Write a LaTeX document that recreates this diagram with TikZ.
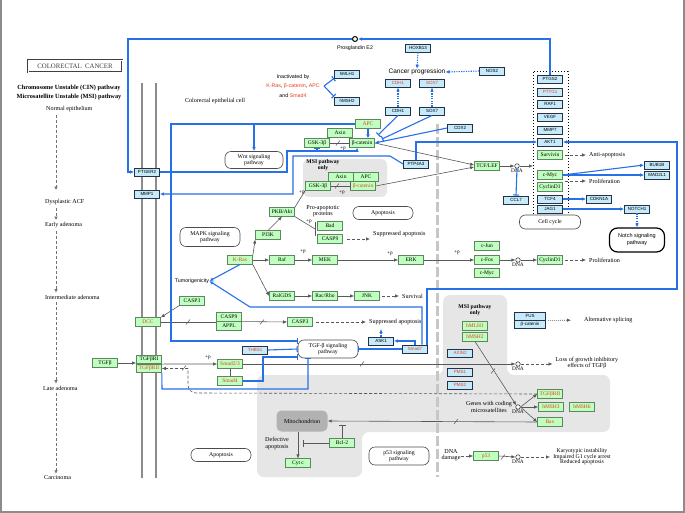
\documentclass[tikz,border=0pt]{standalone}
\usepackage{fontspec}
\setmainfont{Liberation Serif}
\setsansfont{Liberation Sans}
\usetikzlibrary{arrows.meta}

\definecolor{kgreen}{RGB}{191,255,191}
\definecolor{kgreenln}{RGB}{95,135,95}
\definecolor{kblue}{RGB}{198,234,250}
\definecolor{knavy}{RGB}{35,50,70}
\definecolor{kred}{RGB}{232,64,30}
\definecolor{lnblue}{RGB}{38,112,232}
\definecolor{regiongray}{RGB}{230,230,230}
\definecolor{mitogray}{RGB}{178,178,178}

\tikzset{
	gbox/.style={draw=kgreenln, fill=kgreen, line width=0.6pt, minimum width=25pt, minimum height=8.5pt, inner sep=0pt, font=\fontsize{5.5}{5.5}\selectfont},
	bbox/.style={draw=knavy, fill=kblue, line width=0.9pt, minimum width=25pt, minimum height=8pt, inner sep=0pt, font=\sffamily\fontsize{4.5}{5}\selectfont},
	redtxt/.style={text=kred},
	pway/.style={draw=black!70, fill=white, line width=0.6pt, rounded corners=6pt, minimum width=60pt, minimum height=14pt, inner sep=0pt, align=center, font=\fontsize{5.8}{6.4}\selectfont},
	lbl/.style={inner sep=0pt, align=center, font=\fontsize{6.1}{6.2}\selectfont},
	slbl/.style={inner sep=0pt, align=center, font=\sffamily\fontsize{5.3}{9.5}\selectfont},
	boldlbl/.style={inner sep=0pt, align=center, font=\bfseries\fontsize{6.3}{9}\selectfont},
	plbl/.style={inner sep=0pt, font=\fontsize{5.2}{5}\selectfont},
	dna/.style={circle, draw=black!75, fill=white, line width=0.6pt, minimum size=4.5pt, inner sep=0pt, label={[inner sep=0.5pt, font=\fontsize{5.4}{5}\selectfont]below:DNA}},
	membrane/.style={draw=black!45, line width=2.4pt},
	nucl/.style={draw=black!22, line width=3pt, dash pattern=on 10pt off 3pt},
	bln/.style={draw=lnblue, line width=1.1pt},
	blarr/.style={bln, -{Latex[length=4pt,width=3.6pt]}},
	blbar/.style={bln, -{Bar[width=6pt]}},
	bldot/.style={bln, dash pattern=on 1.2pt off 1.2pt, -{Latex[length=4pt,width=3.6pt]}},
	blk/.style={draw=black!65, line width=0.6pt},
	blkarr/.style={blk, -{Latex[length=4pt,width=3.4pt]}},
	blkbar/.style={blk, -{Bar[width=7pt]}},
	dsharr/.style={blk, dash pattern=on 3pt off 2pt, -{Latex[length=4pt,width=3.4pt]}},
	stagearr/.style={draw=black!55, line width=0.6pt, dash pattern=on 3pt off 2pt, -{Latex[length=3.5pt,width=3.5pt]}, shorten <=3pt, shorten >=2pt},
	cutln/.style={draw=black!65, line width=0.5pt},
}
\def\cutmark(#1,#2){\draw[cutln] (#1-2,#2+2.5) -- (#1+2,#2-2.5);}
\def\phos#1(#2,#3){\node[plbl] (#1) at (#2,#3) {+p};}

\begin{document}
\begin{tikzpicture}[x=1pt,y=-1pt]
			%%%%% START %%%%%
			\useasboundingbox (0,0) rectangle (685,513);
			\fill[white] (0,0) rectangle (685,513);
			\draw[black!45, line width=1.2pt] (1,0) -- (1,512) -- (684,512) -- (684,0);
			
			\fill[regiongray, rounded corners=7pt] (257,375) -- (443,375) -- (443,295) -- (507,295) -- (507,375) -- (610,375) -- (610,432) -- (362,432) -- (362,477) -- (257,477) -- cycle;
			\fill[regiongray, rounded corners=6pt] (303,159) rectangle (387,197);
			
			\draw[membrane] (142,83) -- (142,478);
			\draw[membrane] (156,83) -- (156,478);
			\draw[nucl] (437,124) -- (437,477);
			\draw[dotted, line width=1pt] (533,72) rectangle (568,215);
			
			% left column
			\node[draw=black!75, double=white, double distance=0.6pt, line width=0.6pt, minimum width=94pt, minimum height=12pt, inner sep=0pt, text=black!75, font=\fontsize{6.8}{6.8}\selectfont] (title) at (75,66) {COLORECTAL\ \ CANCER};
			\node[boldlbl] (cin) at (69,88) {Chromosome Unstable (CIN) pathway};
			\node[boldlbl] (msip) at (69,97) {Microsatellite Unstable (MSI) pathway};
			\node[lbl, anchor=west] (st0) at (46,109) {Normal epithelium};
			\node[lbl, anchor=west] (st1) at (45,202) {Dysplastic ACF};
			\node[lbl, anchor=west] (st2) at (45,225) {Early adenoma};
			\node[lbl, anchor=west] (st3) at (45,297) {Intermediate adenoma};
			\node[lbl, anchor=west] (st4) at (43,388) {Late adenoma};
			\node[lbl, anchor=west] (st5) at (44,478) {Carcinoma};
			\coordinate (sx) at (56,0);
			\draw[stagearr, shorten >=9pt] (st0.south -| sx) -- (st1.north -| sx);
			\draw[stagearr] (st1.south -| sx) -- (st2.north -| sx);
			\draw[stagearr] (st2.south -| sx) -- (st3.north -| sx);
			\draw[stagearr] (st3.south -| sx) -- (st4.north -| sx);
			\draw[stagearr] (st4.south -| sx) -- (st5.north -| sx);
			
			\node[bbox] (ptger2) at (147,172) {PTGER2};
			\node[bbox] (mmp1) at (147,194) {MMP1};
			\node[gbox, redtxt] (dcc) at (148,322) {DCC};
			\node[gbox] (tgfb) at (105,363) {TGFβ};
			\node[gbox] (tgfbr1) at (149,359.5) {TGFβRI};
			\node[gbox, redtxt] (tgfbr2) at (149,368.5) {TGFβRII};
			
			% top
			\node[circle, draw, line width=1pt, fill=white, minimum size=5pt, inner sep=0pt] (pge) at (355,39) {};
			\node[slbl] (pgelbl) at (355,48) {Prosglandin E2};
			\node[bbox] (hoxb13) at (418,48) {HOXB13};
			\node[inner sep=0pt, font=\sffamily\fontsize{6.5}{7}\selectfont] (cprog) at (417,72) {Cancer progression};
			\node[bbox] (nos2) at (492,71) {NOS2};
			\node[bbox, redtxt] (cdh1r) at (398,83) {CDH1};
			\node[bbox, redtxt] (sox7r) at (432,83) {SOX7};
			\node[bbox] (cdh1) at (398,111) {CDH1};
			\node[bbox] (sox7) at (432,111) {SOX7};
			\node[bbox] (hmlh1a) at (347,74) {hMLH1};
			\node[bbox] (hmsh2a) at (347,101) {hMSH2};
			\node[slbl] (inact) at (293,86) {Inactivated by\\\textcolor{kred}{K-Ras}, \textcolor{kred}{β-catenin}, \textcolor{kred}{APC}\\and \textcolor{kred}{Smad4}};
			\node[lbl] (cell) at (215,101) {Colorectal epithelial cell};
			
			% wnt part
			\node[gbox, redtxt] (apc) at (368,124) {APC};
			\node[gbox] (axin) at (340,133) {Axin};
			\node[gbox] (gsk) at (317,143) {GSK-3β};
			\node[gbox] (bcat) at (362,143) {β-catenin};
			\node[pway, minimum width=58pt, minimum height=17pt] (wnt) at (254,160) {Wnt signaling\\pathway};
			\node[bbox] (ptp4a3) at (416,164) {PTP4A3};
			\node[bbox] (cdx2) at (460,128) {CDX2};
			\node[boldlbl, font=\bfseries\fontsize{5.7}{5.7}\selectfont] (msi1) at (323,165) {MSI pathway\\only};
			\node[gbox] (msiaxin) at (341,177) {Axin};
			\node[gbox] (msiapc) at (366,177) {APC};
			\node[gbox] (msigsk) at (318,186) {GSK-3β};
			\node[gbox, redtxt] (msibcat) at (363,186) {β-catenin};
			\node[gbox] (tcflef) at (487,166) {TCF/LEF};
			\node[dna] (dna1) at (517,166) {};
			\node[bbox] (ccl7) at (516,200) {CCL7};
			\coordinate (boxin) at (533,166);
			
			% target genes
			\node[bbox] (ptgs2) at (550,79) {PTGS2};
			\node[bbox, redtxt] (pttg1) at (550,92) {PTTG1};
			\node[bbox] (raf1) at (550,104) {RAF1};
			\node[bbox] (vegf) at (550,117) {VEGF};
			\node[bbox] (mmp7) at (550,130) {MMP7};
			\node[bbox] (akt1) at (550,142) {AKT1};
			\node[gbox] (survivin) at (550,155) {Survivin};
			\node[gbox] (cmyc) at (550,175) {c-Myc};
			\node[gbox] (cycd1) at (550,187) {CyclinD1};
			\node[bbox] (tcf4) at (550,199) {TCF4};
			\node[bbox] (jag1) at (550,209) {JAG1};
			\node[pway, minimum width=61pt, minimum height=14pt] (ccyc) at (550,222) {Cell cycle};
			\node[lbl, anchor=west] (antiap) at (589,155) {Anti-apoptosis};
			\node[bbox] (bub1b) at (657,165) {BUB1B};
			\node[bbox] (mad2l1) at (657,175) {MAD2L1};
			\node[lbl, anchor=west] (prolif1) at (589,181) {Proliferation};
			\coordinate (myccd) at (565,181);
			\node[bbox] (cdkn1a) at (599,199) {CDKN1A};
			\node[bbox] (notch1) at (637,209) {NOTCH1};
			\node[draw, line width=1.2pt, fill=white, rounded corners=8pt, minimum width=55pt, minimum height=24pt, align=center, inner sep=0pt, font=\sffamily\fontsize{5.5}{7}\selectfont] (notchpw) at (637,240) {Notch signaling\\pathway};
			
			% mapk part
			\node[gbox] (pkb) at (282,212) {PKB/Akt};
			\node[lbl] (proap) at (323,211.5) {Pro-apoptotic\\proteins};
			\node[pway, minimum height=13pt] (apop1) at (383,213) {Apoptosis};
			\node[gbox] (bad) at (330,226) {Bad};
			\node[gbox] (casp9a) at (330,239) {CASP9};
			\node[lbl, anchor=west] (supap1) at (373,234) {Suppressed apoptosis};
			\node[gbox] (pi3k) at (268,235) {PI3K};
			\node[pway, minimum height=19pt] (mapk) at (210,237) {MAPK signaling\\pathway};
			\node[gbox, redtxt] (kras) at (240,260) {K-Ras};
			\node[gbox] (raf) at (282,260) {Raf};
			\node[gbox] (mek) at (325,260) {MEK};
			\node[gbox] (erk) at (411,260) {ERK};
			\node[gbox] (cjun) at (487,246) {c-Jun};
			\node[gbox] (cfos) at (487,260) {c-Fos};
			\node[gbox] (cmyc2) at (487,273) {c-Myc};
			\node[dna] (dna2) at (518,260) {};
			\node[gbox] (cycd1b) at (550,260) {CyclinD1};
			\node[lbl, anchor=west] (prolif2) at (589,260) {Proliferation};
			\node[gbox] (ralgds) at (282,296) {RalGDS};
			\node[gbox] (racrho) at (325,296) {Rac/Rho};
			\node[gbox] (jnk) at (367,296) {JNK};
			\node[lbl, anchor=west] (surv) at (402,296) {Survival};
			\node[slbl] (tumor) at (192,281) {Tumorigenicity};
			\node[gbox] (casp3a) at (192,301) {CASP3};
			\node[gbox] (casp9b) at (229,317) {CASP9};
			\node[gbox] (appl) at (229,326) {APPL};
			\node[gbox] (casp3b) at (300,322) {CASP3};
			\node[lbl, anchor=west] (supap2) at (369,322) {Suppressed apoptosis};
			
			% tgf part
			\node[bbox] (ask1) at (381,341) {ASK1};
			\coordinate (ask1up) at (381,329);
			\node[bbox, redtxt] (smad7) at (415,349) {Smad7};
			\node[bbox, redtxt] (thbs1) at (255,350) {THBS1};
			\node[pway, minimum height=18pt] (tgfpw) at (328,349) {TGF-β signaling\\pathway};
			\node[gbox, redtxt] (smad23) at (230,364) {Smad2/3};
			\node[gbox, redtxt] (smad4) at (230,381) {Smad4};
			
			% msi part
			\node[boldlbl, font=\bfseries\fontsize{5.7}{5.7}\selectfont] (msi2) at (475,310) {MSI pathway\\only};
			\node[gbox, redtxt] (hmlh1) at (475,326) {hMLH1};
			\node[gbox, redtxt] (hmsh2) at (475,337) {hMSH2};
			\node[bbox, redtxt] (axin2) at (460,353) {AXIN2};
			\node[bbox, redtxt] (pms1) at (460,372) {PMS1};
			\node[bbox, redtxt] (pms2) at (460,385) {PMS2};
			\node[bbox, minimum width=31pt] (fus) at (530,316) {FUS};
			\node[bbox, minimum width=31pt] (fusbcat) at (530,324) {β-catenin};
			\node[lbl, anchor=west] (altspl) at (584,320) {Alternative splicing};
			\node[dna] (dna3) at (518,364) {};
			\node[lbl] (loss) at (587,363) {Loss of growth inhibitory\\effects of TGFβ};
			\node[lbl] (genes) at (489,407) {Genes with coding\\microsatellites};
			\node[dna] (dna4) at (518,407) {};
			\node[gbox, redtxt] (tgfbr2b) at (550,394) {TGFβRII};
			\node[gbox, redtxt] (hmsh3) at (551,407) {hMSH3};
			\node[gbox, redtxt] (hmsh6) at (582,407) {hMSH6};
			\node[gbox, redtxt] (bax) at (550,422) {Bax};
			
			% bottom
			\node[fill=mitogray, rounded corners=5pt, minimum width=51pt, minimum height=21pt, inner sep=0pt, font=\fontsize{6}{6}\selectfont] (mito) at (302,421) {Mitochondrion};
			\node[gbox] (cytc) at (298,463) {Cyt c};
			\node[gbox] (bcl2) at (342,443) {Bcl-2};
			\coordinate (bclhit) at (342,425);
			\coordinate (cythit) at (303,443);
			\node[lbl] (defap) at (277,443.5) {Defective\\apoptosis};
			\node[pway, minimum height=13pt] (apop2) at (221,455) {Apoptosis};
			\node[pway, minimum height=18pt] (p53pw) at (399,456) {p53 signaling\\pathway};
			\node[lbl] (dnadmg) at (451,455) {DNA\\damage};
			\node[gbox, redtxt] (p53) at (486,456) {p53};
			\node[dna] (dna5) at (518,457) {};
			\node[lbl, font=\fontsize{5.8}{5.6}\selectfont] (karyo) at (582,457) {Karyotypic instability\\Impaired G1 cycle arrest\\Reduced apoptosis};
			
			% black relations
			\draw[blkarr] (tgfb.east) -- (tgfb.east -| tgfbr1.west);
			\draw[blkarr] (tgfbr1.south east) -- (smad23.west);
			\phos{p1}(208,358)
			\draw[dsharr] (tgfbr2b.west) -- (196,393) to[out=180, in=-90] (188,385) -- (188,368.5) -- (tgfbr2.east);
			\cutmark(184,368)
			\draw[blk] (smad23.south) -- (smad4.north);
			\draw[blkarr] (smad23.east) -- (dna3.west);
			\cutmark(362,364)
			\draw[dsharr, shorten >=3pt] (dna3.east) -- (dna3.east -| loss.west);
			\draw[blkarr] (hmsh2.south) -- (dna4.north west);
			\cutmark(493,371)
			\draw[blkarr] (dna4.east) -- (tgfbr2b.west);
			\draw[blkarr] (dna4.east) -- (hmsh3.west);
			\draw[blkarr] (dna4.east) -- (bax.west);
			\draw[blkarr] (bax.west) -- (mito.east);
			\cutmark(456,421.5)
			\draw[blkbar] (bcl2.north) -- (bclhit);
			\draw[blkarr] (mito.south -| cytc.north) -- (cytc.north);
			\draw[blkbar] (bcl2.west) -- (cythit);
			\draw[dsharr] (dnadmg.east |- p53.west) -- (p53.west);
			\draw[blkarr] (p53.east) -- (dna5.west);
			\cutmark(503,457)
			\draw[dsharr, shorten >=3pt] (dna5.east) -- (dna5.east -| karyo.west);
			
			\draw[blkbar] (gsk.east) -- (bcat.west);
			\cutmark(338,143)
			\phos{p2}(343,149)
			\draw[blkbar] (msigsk.east) -- (msibcat.west);
			\cutmark(337,186)
			\phos{p3}(342,193)
			\draw[blk] (pkb.north east) -- (msigsk.south west);
			\phos{p4}(302,193)
			\draw[blkarr] (bcat.east) -- ([yshift=1pt]tcflef.west);
			\draw[blkarr] (msibcat.east) -- ([yshift=-1pt]tcflef.west);
			\draw[blkarr] (tcflef.east) -- (dna1.west);
			\draw[blkarr] (dna1.east) -- (boxin);
			\draw[dsharr, shorten <=2pt, shorten >=3pt] (survivin.east) -- (antiap.west);
			\draw[dsharr, shorten >=3pt] (myccd) -- (prolif1.west);
			
			\draw[blkarr] (kras.north east) -- (pi3k.south west);
			\draw[blkarr] (pi3k.north) -- (pkb.south);
			\coordinate (pkbhit) at (315,229);
			\draw[blk] (pkb.south east) -- (pkbhit);
			\draw[blk] (315,222) -- (315,236);
			\phos{p5}(309,222)
			\draw[dsharr, shorten <=4pt, shorten >=3pt] (casp9a.east) -- (casp9a.east -| supap1.west);
			\draw[blkarr] (kras.east) -- (raf.west);
			\draw[blkarr] (raf.east) -- (mek.west);
			\phos{p6}(303,252)
			\draw[blkarr] (mek.east) -- (erk.west);
			\phos{p7}(390,254)
			\draw[blkarr] (erk.east) -- (cfos.west);
			\phos{p8}(457,253)
			\draw[blkarr] (cfos.east) -- (dna2.west);
			\draw[blkarr] (dna2.east) -- (cycd1b.west);
			\draw[dsharr, shorten <=2pt, shorten >=3pt] (cycd1b.east) -- (prolif2.west);
			\draw[blkarr] (kras.south east) -- (ralgds.west);
			\draw[blkarr] (ralgds.east) -- (racrho.west);
			\draw[blkarr] (racrho.east) -- (jnk.west);
			\draw[dsharr, shorten <=2pt, shorten >=3pt] (jnk.east) -- (surv.west);
			\draw[blkarr] (casp3a.south west) -- (dcc.north east);
			\draw[blk] (dcc.east) -- (dcc.east -| casp9b.west);
			\cutmark(188,322)
			\draw[blkarr] (casp9b.south east) -- (casp3b.west);
			\cutmark(262,322)
			\draw[dsharr, shorten <=3pt, shorten >=3pt] (casp3b.east) -- (supap2.west);
			\draw[blk, dash pattern=on 1pt off 1pt, -{Latex[length=4pt,width=3.4pt]}, shorten <=2pt, shorten >=13pt] (fus.south east) -- (altspl.west);
			
			% blue relations
			\draw[blarr] (ptgs2.north) |- (pge.east);
			\coordinate (pgl) at (128,39);
			\draw[blarr] (pge.west) -- (pgl) |- (ptger2.west);
			\coordinate (pga) at (287,151);
			\draw[blarr] (ptger2.east) -| (pga) -| ([xshift=-5pt]bcat.south);
			\draw[blbar] (gsk.south |- pga) -- (gsk.south);
			\coordinate (pta) at (390,156);
			\coordinate (ptb) at (293,156);
			\draw[blarr] (ptp4a3.west) -- (pta) -- (ptb) |- (mmp1.east);
			\draw[blarr] (ptp4a3.north) |- (akt1.west);
			\coordinate (apcl) at (171,124);
			\coordinate (apcb) at (171,341);
			\draw[blbar] (apc.west) -- (apcl) -- (apcb) -- ([yshift=8pt]tgfpw.west);
			\draw[blarr] (wnt.north |- apcl) -- (wnt.north);
			\draw[blarr] (apc.south) -- (apc.south |- bcat.north);
			\coordinate (cdhhit) at (378,135);
			\coordinate (soxhit) at (382,139);
			\draw[blbar] (cdh1.south) -- (cdhhit);
			\draw[blbar] (sox7.south) -- (soxhit);
			\draw[blarr] (cdx2.west) -- (bcat.east);
			\draw[bldot] (cdh1.north) -- (cdh1r.south);
			\draw[bldot] (sox7.north) -- (sox7r.south);
			\draw[bldot] (hoxb13.south) -- (cprog.north);
			\draw[bldot] (nos2.west) -- (cprog.east);
			\coordinate (inactv) at (324,86);
			\draw[blbar] (inactv) -- (hmlh1a.south west);
			\draw[blbar] (inactv) -- (hmsh2a.north west);
			\draw[blbar] (dna1.south) -- (ccl7.north);
			\draw[blarr] (cmyc.east) -- (bub1b.west);
			\draw[blarr] (cmyc.east) -- (mad2l1.west);
			\draw[blarr] (tcf4.east) -- (cdkn1a.west);
			\draw[blarr] (jag1.east) -- (notch1.west);
			\draw[bldot] (notch1.south) -- (notchpw.north);
			
			\draw[bldot] (ask1.north) -- (ask1up);
			\draw[blarr] (smad7.north) |- (ask1.east);
			\coordinate (s7a) at (427,289);
			\coordinate (s7b) at (677,289);
			\draw[blarr] (s7a |- smad7.north) -- (s7a) -- (s7b) |- (akt1.east);
			\coordinate (s7c) at (422,307);
			\coordinate (s7d) at (250,307);
			\draw[blarr] (s7c |- smad7.north) -- (s7c) -- (s7d) -- (tumor.east);
			\draw[blarr] (kras.south) -- (tumor.east);
			\draw[blbar] (thbs1.east) -- (tgfpw.west);
			\draw[blbar] (smad7.west) -- (tgfpw.east);
			\coordinate (s4a) at (263,381);
			\draw[blbar] (smad4.east) -- (s4a) |- ([yshift=-8pt]tgfpw.west);
			\coordinate (rb) at (162,389);
			\draw[blbar] (tgfbr2.south east) -- (rb) -| ([xshift=-20pt]tgfpw.south);
			
			%%%%% END %%%%%
\end{tikzpicture}
\end{document}
